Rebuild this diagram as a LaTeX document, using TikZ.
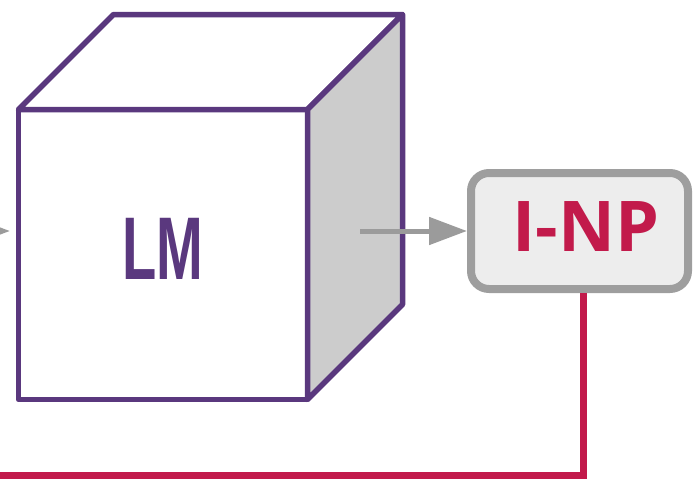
\documentclass[tikz,border=0pt]{standalone}
\usepackage{fontspec}
\setmainfont{Liberation Sans}
\newfontfamily\npfont{Open Sans}
\usepackage{tikz}
\usetikzlibrary{arrows.meta,positioning}
\definecolor{lmpurple}{HTML}{5A387E}
\definecolor{sidegray}{HTML}{CCCCCC}
\definecolor{arrowgray}{HTML}{9B9B9B}
\definecolor{boxgray}{HTML}{9E9E9E}
\definecolor{boxfill}{HTML}{EDEDED}
\definecolor{npred}{HTML}{C21A4B}
\tikzset{
  % purple outline of the cube
  cubeline/.style = {draw=lmpurple, line width=5.5pt, line join=round},
  face/.style     = {cubeline, rectangle, fill=white, inner sep=0pt, outer sep=0pt,
                     minimum width=289pt, minimum height=290pt},
  lmlbl/.style    = {text=lmpurple, inner sep=0pt,
                     font=\fontsize{89}{89}\selectfont\bfseries},
  outbox/.style   = {rectangle, rounded corners=18pt, draw=boxgray, line width=8pt,
                     fill=boxfill, minimum width=217pt, minimum height=116pt},
  outlbl/.style   = {text=npred, inner sep=0pt,
                     font=\npfont\fontsize{70}{70}\selectfont\bfseries},
  flow/.style     = {-{Triangle[length=38pt,width=27pt]}, line width=5pt, arrowgray},
  back/.style     = {npred, line width=7pt},
}

\begin{document}
\begin{tikzpicture}[x=1pt,y=-1pt]
\useasboundingbox (0,0) rectangle (694,479);
% ---- cube -----------------------------------------------------------
\node[face] (front) at (163,254.5) {};
\path[cubeline, fill=white] (front.north west) -- ++(95,-95)
      -- ([shift={(95,-95)}]front.north east) -- (front.north east) -- cycle;
\path[cubeline, fill=sidegray] (front.north east) -- ++(95,-95)
      -- ([shift={(95,-95)}]front.south east) -- (front.south east) -- cycle;
\node[lmlbl] (lm) at ([yshift=5.5pt]front.center) {\scalebox{0.63}[1]{LM}};

% ---- output box -----------------------------------------------------
\node[outbox] (inp) at (579.5,231) {};
\node[outlbl] (inptxt) at ([xshift=6.5pt,yshift=4pt]inp.center) {I-NP};

% ---- connectors -----------------------------------------------------
\coordinate (src) at (-40,231);
\coordinate (lmout) at (360,231);
\coordinate (loopend) at (-10,475.5);
\draw[flow, shorten >=8.5pt] (src) -- (src -| front.west);
\draw[flow] (lmout) -- (inp.west);
\draw[back] ([xshift=4pt]inp.south) |- (loopend);
\end{tikzpicture}
\end{document}
